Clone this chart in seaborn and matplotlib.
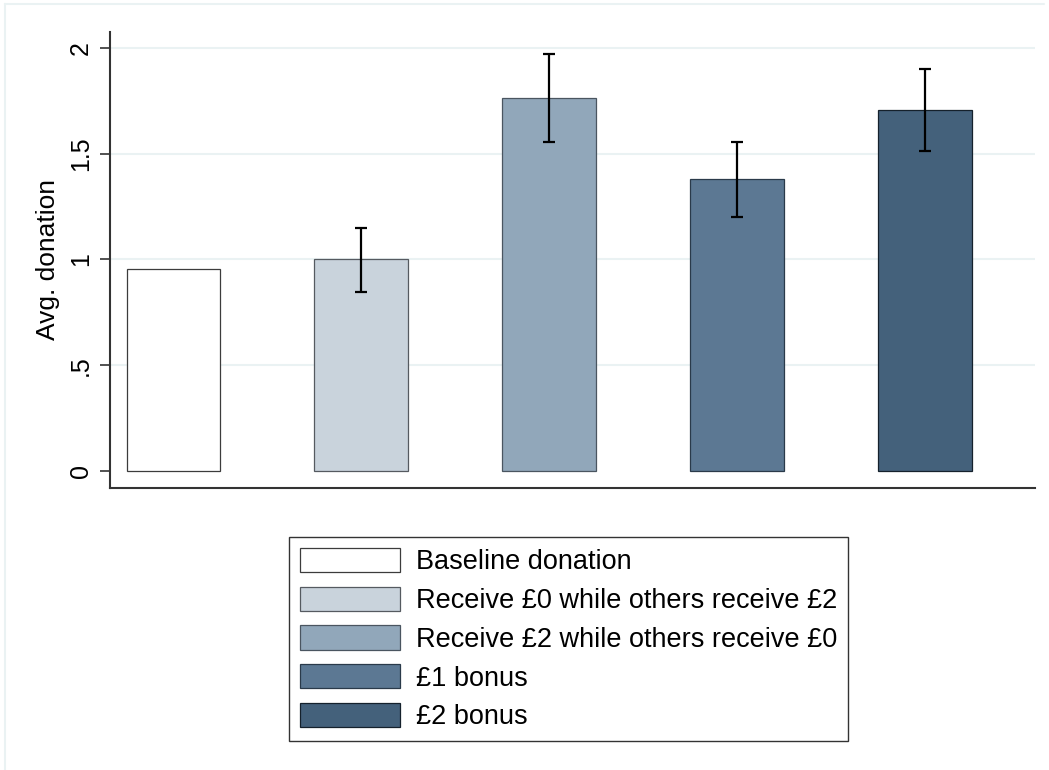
import numpy as np
import matplotlib
matplotlib.use("Agg")
import matplotlib.pyplot as plt
import seaborn as sns
from matplotlib.lines import Line2D

# chart values
categories = [
    "Baseline donation",
    "Receive £0 while others receive £2",
    "Receive £2 while others receive £0",
    "£1 bonus",
    "£2 bonus",
]
avg_donation = [0.953, 1.000, 1.761, 1.378, 1.706]
ci_low = [np.nan, 0.847, 1.553, 1.199, 1.510]
ci_high = [np.nan, 1.148, 1.970, 1.556, 1.899]
y_ticks = [0, 0.5, 1, 1.5, 2]
y_tick_labels = ["0", ".5", "1", "1.5", "2"]

bar_colors = ["#FFFFFF", "#C9D3DC", "#91A7BA", "#5C7893", "#44617B"]
edge_colors = ["#3C3C3C", "#555A60", "#4A5560", "#2A3A4A", "#15212C"]

sns.set_style("white")
plt.rcParams["font.family"] = ["Liberation Sans", "DejaVu Sans"]
plt.rcParams["text.color"] = "black"
plt.rcParams["axes.labelcolor"] = "black"
plt.rcParams["ytick.color"] = "black"

W, H = 1049, 770
fig = plt.figure(figsize=(W / 100, H / 100), dpi=100)
ax = fig.add_axes([110 / W, 1 - 488 / H, (1035 - 110) / W, (488 - 32) / H])

# light outer frame (Stata graph region)
fig.add_artist(Line2D([5 / W, 5 / W], [0, 1 - 4 / H], transform=fig.transFigure,
                      color="#EAF2F3", lw=1.5))
fig.add_artist(Line2D([5 / W, 1044 / W], [1 - 4 / H, 1 - 4 / H], transform=fig.transFigure,
                      color="#EAF2F3", lw=1.5))

for yv in y_ticks[1:]:
    ax.axhline(yv, color="#EAF2F3", lw=1.5, zorder=0)

sns.barplot(x=categories, y=avg_donation, hue=categories, palette=bar_colors,
            order=categories, hue_order=categories, width=0.5, dodge=False,
            errorbar=None, legend=False, saturation=1, ax=ax, zorder=2)

bars = ax.patches[:len(categories)]
for p, ec in zip(bars, edge_colors):
    p.set_edgecolor(ec)
    p.set_linewidth(0.9)

xpos = np.arange(len(categories))
vals = np.array(avg_donation)
yerr = np.array([vals - np.array(ci_low), np.array(ci_high) - vals])
ax.errorbar(xpos, vals, yerr=yerr, fmt="none", ecolor="black", elinewidth=1.6,
            capsize=4.3, capthick=1.6, zorder=3)

ax.set_xlim(-0.338, 4.588)
ax.set_ylim(-0.0803, 2.0742)
ax.set_xticks([])
ax.set_yticks(y_ticks)
ax.set_yticklabels(y_tick_labels, rotation=90, va="center", fontsize=18)
ax.tick_params(axis="y", length=7.2, width=1.2, color="#333333", pad=5, left=True)

for side in ["top", "right"]:
    ax.spines[side].set_visible(False)
for side in ["left", "bottom"]:
    ax.spines[side].set_color("#333333")
    ax.spines[side].set_linewidth(1.5)

ax.set_ylabel("Avg. donation", fontsize=19)
ax.yaxis.set_label_coords((60 - 110) / (1035 - 110), 0.5)
ax.set_xlabel("")

leg = fig.legend(handles=bars, labels=categories, loc="upper left",
                 bbox_to_anchor=(289 / W, 1 - 537 / H), borderaxespad=0,
                 fontsize=19.5, frameon=True, fancybox=False, edgecolor="black",
                 handlelength=3.7, handleheight=1.0, handletextpad=0.6,
                 labelspacing=0.42, borderpad=0.4)
leg.get_frame().set_linewidth(1.0)
for h in leg.legend_handles:
    h.set_linewidth(0.9)

fig.savefig("out.png", dpi=100, facecolor="white")
